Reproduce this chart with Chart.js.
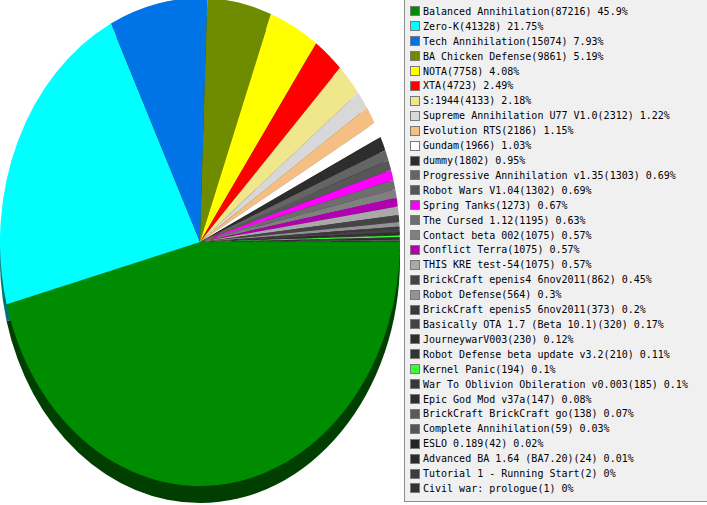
<!DOCTYPE html>
<html>
<head>
<meta charset="utf-8">
<script src="https://cdn.jsdelivr.net/npm/chart.js@4.4.1/dist/chart.umd.min.js"></script>
<style>
  html, body { margin: 0; padding: 0; background: #fff; overflow: hidden; }
  #wrap { position: absolute; left: 0; top: 0; width: 707px; height: 505px; }
  #legend {
    position: absolute; left: 404px; top: -1px; width: 310px; height: 503px;
    box-sizing: border-box; border: 1px solid #8c8c8c; background: #f0f0f0;
    padding-top: 4px; font: 10px "DejaVu Sans Mono", monospace; color: #000;
  }
  .row { height: 14.92px; display: flex; align-items: center; white-space: pre; }
  .sw { width: 10px; height: 10px; box-sizing: border-box; border: 1px solid #7a7a7a; margin: 0 3px 0 5px; flex: none; }
</style>
</head>
<body>
<div id="wrap"><canvas id="pie"></canvas></div>
<div id="legend"></div>
<script>
const games = [
  'Balanced Annihilation', 'Zero-K', 'Tech Annihilation', 'BA Chicken Defense', 'NOTA', 'XTA',
  'S:1944', 'Supreme Annihilation U77 V1.0', 'Evolution RTS', 'Gundam', 'dummy',
  'Progressive Annihilation v1.35', 'Robot Wars V1.04', 'Spring Tanks', 'The Cursed 1.12',
  'Contact beta 002', 'Conflict Terra', 'THIS KRE test-54', 'BrickCraft epenis4 6nov2011',
  'Robot Defense', 'BrickCraft epenis5 6nov2011', 'Basically OTA 1.7 (Beta 10.1)',
  'JourneywarV003', 'Robot Defense beta update v3.2', 'Kernel Panic',
  'War To Oblivion Obileration v0.003', 'Epic God Mod v37a', 'BrickCraft BrickCraft go',
  'Complete Annihilation', 'ESLO 0.189', 'Advanced BA 1.64 (BA7.20)',
  'Tutorial 1 - Running Start', 'Civil war: prologue'
];
const games_played = [
  87216, 41328, 15074, 9861, 7758, 4723, 4133, 2312, 2186, 1966, 1802,
  1303, 1302, 1273, 1195, 1075, 1075, 1075, 862, 564, 373, 320,
  230, 210, 194, 185, 147, 138, 59, 42, 24, 2, 1
];
const percents = [
  '45.9%', '21.75%', '7.93%', '5.19%', '4.08%', '2.49%', '2.18%', '1.22%', '1.15%', '1.03%', '0.95%',
  '0.69%', '0.69%', '0.67%', '0.63%', '0.57%', '0.57%', '0.57%', '0.45%', '0.3%', '0.2%', '0.17%',
  '0.12%', '0.11%', '0.1%', '0.1%', '0.08%', '0.07%', '0.03%', '0.02%', '0.01%', '0%', '0%'
];
const colors = [
  '#008c00', '#00ffff', '#0073e6', '#6f8c00', '#ffff00', '#ff0000', '#f0e68c', '#d8d8d8',
  '#f5be82', '#ffffff', '#2d2d2d', '#646464', '#575757', '#ff00ff', '#6e6e6e', '#808080',
  '#b000b0', '#a9a9a9', '#444444', '#929292', '#3a3a3a', '#444444', '#2e2e2e', '#333333',
  '#33ff33', '#383838', '#2e2e2e', '#5a5a5a', '#555555', '#252525', '#2a2a2a', '#3c3c3c', '#333333'
];

// pie is drawn as a circle, then squashed into an upright ellipse with a dark rim underneath
const CENTER_Y = 242;
const RADIUS = 200;
const SQUASH = 244 / 200;
const DEPTH = 17;

function shade(hex) {
  const n = parseInt(hex.slice(1), 16);
  const f = 0.45;
  return 'rgb(' + Math.round((n >> 16) * f) + ',' + Math.round(((n >> 8) & 255) * f) + ',' + Math.round((n & 255) * f) + ')';
}

const ellipse = {
  id: 'ellipse',
  beforeDatasetsDraw(chart) {
    const ctx = chart.ctx;
    const arcs = chart.getDatasetMeta(0).data;
    const c = arcs[0];
    ctx.save();
    ctx.translate(c.x, CENTER_Y + DEPTH);
    ctx.scale(1, SQUASH);
    ctx.translate(-c.x, -c.y);
    arcs.forEach((arc, i) => {
      ctx.beginPath();
      ctx.moveTo(arc.x, arc.y);
      ctx.arc(arc.x, arc.y, arc.outerRadius, arc.startAngle, arc.endAngle);
      ctx.closePath();
      ctx.fillStyle = shade(colors[i]);
      ctx.fill();
    });
    ctx.restore();
    ctx.save();
    ctx.translate(c.x, CENTER_Y);
    ctx.scale(1, SQUASH);
    ctx.translate(-c.x, -c.y);
  },
  afterDatasetsDraw(chart) {
    chart.ctx.restore();
  }
};

new Chart(document.getElementById('pie'), {
  type: 'pie',
  data: {
    labels: games,
    datasets: [{
      data: games_played,
      backgroundColor: colors,
      borderWidth: 0,
      hoverOffset: 0,
      radius: RADIUS
    }]
  },
  options: {
    responsive: true,
    maintainAspectRatio: false,
    animation: false,
    events: [],
    rotation: 90,
    layout: { padding: { left: 0, right: 307, top: 0, bottom: 0 } },
    plugins: {
      legend: { display: false },
      tooltip: { enabled: false }
    }
  },
  plugins: [ellipse]
});

const legend = document.getElementById('legend');
games.forEach((g, i) => {
  const row = document.createElement('div');
  row.className = 'row';
  const sw = document.createElement('span');
  sw.className = 'sw';
  sw.style.background = colors[i];
  row.appendChild(sw);
  row.appendChild(document.createTextNode(g + '(' + games_played[i] + ') ' + percents[i]));
  legend.appendChild(row);
});
</script>
</body>
</html>
